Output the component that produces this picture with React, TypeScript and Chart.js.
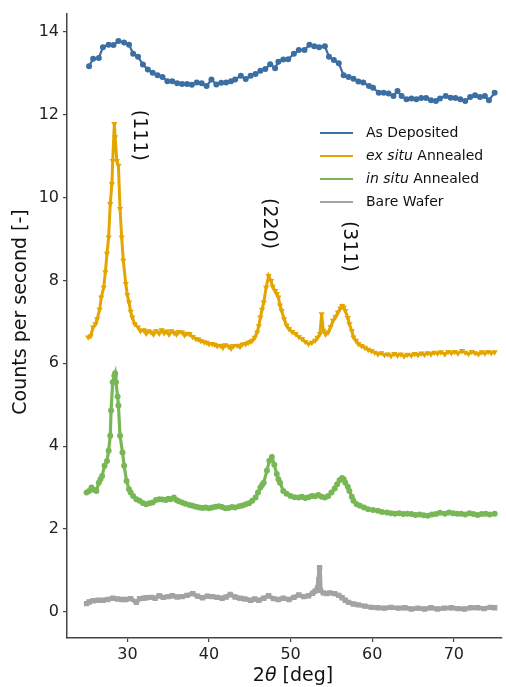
import React, { useEffect, useRef } from "react";
import { Chart, registerables } from "chart.js";

Chart.register(...registerables);

// ---- Data ----
const asDepX = [25.3,25.8,26.5,27.0,27.7,28.3,28.9,29.6,30.2,30.7,31.3,31.9,32.5,33.1,33.7,34.3,34.9,35.5,36.1,36.7,37.3,37.9,38.5,39.1,39.7,40.3,40.9,41.5,42.1,42.7,43.2,43.9,44.5,45.1,45.7,46.3,46.9,47.5,48.1,48.5,49.1,49.7,50.4,51.0,51.7,52.3,52.9,53.5,54.2,54.7,55.3,55.9,56.5,57.1,57.7,58.3,58.9,59.6,60.1,60.8,61.4,62.0,62.6,63.1,63.6,64.2,64.8,65.4,66.0,66.6,67.2,67.8,68.3,69.0,69.6,70.2,70.8,71.4,72.0,72.6,73.2,73.8,74.3,75.0];
const asDepY = [13.17,13.35,13.37,13.63,13.69,13.68,13.78,13.74,13.69,13.47,13.40,13.21,13.09,13.01,12.95,12.91,12.81,12.81,12.76,12.74,12.74,12.72,12.78,12.76,12.69,12.85,12.73,12.77,12.78,12.81,12.85,12.94,12.86,12.94,12.98,13.06,13.10,13.22,13.12,13.28,13.33,13.34,13.47,13.56,13.56,13.69,13.65,13.63,13.65,13.40,13.32,13.24,12.95,12.91,12.87,12.80,12.78,12.69,12.65,12.53,12.53,12.51,12.45,12.57,12.45,12.37,12.39,12.37,12.40,12.40,12.35,12.33,12.39,12.45,12.41,12.40,12.37,12.33,12.43,12.47,12.43,12.45,12.35,12.53];

const exSituX = [25.2,25.5,25.8,26.1,26.3,26.6,26.8,27.1,27.3,27.5,27.7,27.9,28.1,28.2,28.4,28.5,28.7,28.9,29.1,29.3,29.5,29.8,30.0,30.2,30.4,30.6,30.9,31.3,31.6,32.0,32.3,32.6,32.9,33.2,33.5,33.9,34.2,34.5,34.8,35.1,35.4,35.7,36.0,36.3,36.7,37.0,37.3,37.6,38.0,38.4,38.7,39.0,39.4,39.7,40.0,40.4,40.7,41.0,41.4,41.7,42.0,42.4,42.7,43.0,43.5,43.8,44.1,44.5,44.8,45.1,45.3,45.6,45.9,46.1,46.3,46.5,46.7,47.0,47.3,47.6,47.8,48.1,48.3,48.5,48.7,48.9,49.2,49.5,49.8,50.2,50.6,51.0,51.4,51.8,52.2,52.6,53.0,53.3,53.6,53.8,54.0,54.3,54.6,54.9,55.2,55.5,55.8,56.1,56.3,56.5,56.7,57.0,57.2,57.5,57.7,58.0,58.3,58.7,59.1,59.5,59.9,60.3,60.7,61.1,61.5,61.9,62.3,62.7,63.1,63.5,63.9,64.3,64.8,65.2,65.6,66.0,66.4,66.8,67.2,67.6,68.0,68.4,68.9,69.3,69.7,70.1,70.5,71.0,71.4,71.8,72.2,72.6,73.0,73.4,73.8,74.2,74.6,75.0];
const exSituY = [6.63,6.66,6.87,6.95,7.07,7.30,7.59,7.83,8.20,8.65,9.04,9.85,10.33,10.89,11.78,11.46,10.89,10.77,9.73,9.04,8.48,7.92,7.65,7.47,7.25,7.11,6.95,6.87,6.78,6.80,6.72,6.78,6.75,6.70,6.78,6.72,6.80,6.73,6.77,6.70,6.78,6.74,6.70,6.76,6.75,6.68,6.72,6.71,6.64,6.59,6.58,6.54,6.51,6.50,6.47,6.47,6.45,6.42,6.43,6.38,6.44,6.41,6.36,6.42,6.43,6.40,6.46,6.47,6.50,6.52,6.55,6.62,6.75,6.90,7.11,7.30,7.47,7.83,8.11,7.99,7.85,7.75,7.68,7.59,7.40,7.27,7.07,6.92,6.83,6.76,6.71,6.64,6.59,6.52,6.47,6.50,6.55,6.62,6.71,7.19,6.79,6.70,6.75,6.88,7.03,7.12,7.23,7.33,7.39,7.35,7.27,7.10,6.95,6.78,6.63,6.55,6.47,6.42,6.38,6.33,6.30,6.26,6.22,6.25,6.20,6.22,6.18,6.23,6.19,6.22,6.17,6.21,6.19,6.23,6.20,6.24,6.21,6.25,6.22,6.26,6.24,6.27,6.22,6.28,6.25,6.28,6.24,6.30,6.26,6.23,6.28,6.25,6.22,6.27,6.24,6.28,6.25,6.27];

const inSituX = [25.0,25.3,25.6,25.9,26.2,26.5,26.7,26.9,27.2,27.5,27.7,27.9,28.0,28.2,28.4,28.5,28.6,28.8,28.9,29.1,29.4,29.6,29.9,30.2,30.4,30.7,31.1,31.5,31.9,32.3,32.7,33.1,33.5,33.9,34.3,34.7,35.0,35.3,35.7,36.0,36.3,36.7,37.1,37.6,38.0,38.4,38.8,39.2,39.6,40.0,40.4,40.8,41.2,41.6,42.0,42.4,42.8,43.2,43.7,44.1,44.5,44.9,45.3,45.7,46.0,46.3,46.5,46.7,47.1,47.4,47.7,48.0,48.3,48.5,48.7,49.1,49.5,50.0,50.5,51.0,51.4,51.8,52.2,52.6,53.0,53.4,53.8,54.2,54.6,55.0,55.4,55.7,56.0,56.3,56.5,56.7,57.0,57.2,57.5,57.7,58.1,58.5,59.0,59.5,60.1,60.7,61.2,61.8,62.3,62.8,63.3,63.8,64.3,64.8,65.3,65.8,66.3,66.8,67.3,67.8,68.3,68.9,69.4,69.9,70.4,70.9,71.4,71.9,72.4,72.9,73.4,73.9,74.4,75.0];
const inSituY = [2.88,2.92,3.00,2.95,2.92,3.12,3.20,3.28,3.53,3.64,3.89,4.25,4.86,5.54,5.70,5.76,5.54,5.20,4.98,4.25,3.85,3.53,3.16,2.96,2.88,2.80,2.72,2.68,2.63,2.60,2.62,2.64,2.70,2.72,2.71,2.70,2.73,2.72,2.76,2.70,2.67,2.64,2.61,2.58,2.56,2.54,2.52,2.51,2.52,2.50,2.52,2.54,2.55,2.53,2.50,2.51,2.53,2.52,2.55,2.57,2.60,2.62,2.68,2.76,2.88,3.00,3.06,3.12,3.41,3.65,3.74,3.55,3.33,3.20,3.12,2.92,2.85,2.80,2.77,2.76,2.78,2.75,2.77,2.80,2.79,2.82,2.78,2.76,2.80,2.88,2.98,3.08,3.18,3.23,3.20,3.12,3.02,2.92,2.78,2.68,2.60,2.56,2.52,2.48,2.46,2.44,2.41,2.40,2.38,2.37,2.38,2.36,2.37,2.36,2.34,2.35,2.33,2.32,2.35,2.36,2.39,2.37,2.40,2.38,2.37,2.37,2.35,2.38,2.36,2.34,2.36,2.37,2.35,2.37];

const bareX = [25.0,25.3,25.8,26.4,27.0,27.6,28.2,28.8,29.4,29.8,30.4,31.1,31.5,32.0,32.3,32.9,33.4,33.9,34.4,35.0,35.5,36.1,36.7,37.3,38.0,38.6,39.2,39.8,40.4,41.0,41.6,42.1,42.6,43.2,43.8,44.4,45.1,45.6,46.1,46.7,47.3,47.9,48.5,49.1,49.8,50.4,51.0,51.6,52.2,52.7,53.0,53.3,53.45,53.55,53.65,54.0,54.4,54.8,55.4,55.9,56.3,56.7,57.1,57.7,58.3,59.1,59.9,60.7,61.5,62.3,63.2,64.0,64.8,65.6,66.4,67.2,68.0,68.8,69.7,70.5,71.3,72.1,72.9,73.7,74.5,75.0];
const bareY = [0.20,0.24,0.27,0.28,0.28,0.30,0.33,0.31,0.30,0.30,0.32,0.23,0.32,0.33,0.34,0.35,0.33,0.39,0.35,0.37,0.39,0.36,0.37,0.40,0.44,0.38,0.34,0.38,0.37,0.35,0.33,0.36,0.42,0.36,0.33,0.31,0.28,0.31,0.28,0.33,0.39,0.32,0.30,0.33,0.30,0.35,0.41,0.37,0.39,0.45,0.50,0.58,0.78,1.07,0.52,0.46,0.44,0.46,0.44,0.40,0.34,0.28,0.23,0.19,0.17,0.14,0.11,0.10,0.09,0.11,0.09,0.10,0.07,0.09,0.07,0.10,0.07,0.09,0.10,0.08,0.07,0.10,0.10,0.08,0.11,0.10];

const xTicks = [30, 40, 50, 60, 70];
const yTicks = [0, 2, 4, 6, 8, 10, 12, 14];

const peakLabels = ["(111)", "(220)", "(311)"];
const peakLabelX = [31.45, 47.39, 57.18];
const peakLabelY = [11.5, 9.37, 8.82];

const COLORS = {
  blue: "#3b6ea3",
  orange: "#e3a600",
  green: "#78b755",
  gray: "#a3a3a3",
};

const FONT = "'DejaVu Sans', sans-serif";

const legendItems = [
  { color: COLORS.blue, italic: "", rest: "As Deposited" },
  { color: COLORS.orange, italic: "ex situ", rest: " Annealed" },
  { color: COLORS.green, italic: "in situ", rest: " Annealed" },
  { color: COLORS.gray, italic: "", rest: "Bare Wafer" },
];

function pts(xs: number[], ys: number[]) {
  return xs.map((x, i) => ({ x, y: ys[i] }));
}

const customPlugin = {
  id: "customDraw",
  afterDraw(chart: any) {
    const ctx = chart.ctx;
    const xs = chart.scales.x;
    const ys = chart.scales.y;
    ctx.save();
    ctx.fillStyle = "#111";
    // peak labels
    ctx.font = `19px ${FONT}`;
    ctx.textAlign = "center";
    ctx.textBaseline = "middle";
    peakLabels.forEach((t, i) => {
      const px = xs.getPixelForValue(peakLabelX[i]);
      const py = ys.getPixelForValue(peakLabelY[i]);
      ctx.save();
      ctx.translate(px, py);
      ctx.rotate(Math.PI / 2);
      ctx.fillText(t, 0, 0);
      ctx.restore();
    });
    // legend
    const lx0 = 320, lx1 = 353, tx = 366;
    const rowY = [133, 156, 179, 202];
    legendItems.forEach((it, i) => {
      const y = rowY[i];
      ctx.strokeStyle = it.color;
      ctx.lineWidth = 2;
      ctx.beginPath();
      ctx.moveTo(lx0, y);
      ctx.lineTo(lx1, y);
      ctx.stroke();
      ctx.textAlign = "left";
      ctx.textBaseline = "middle";
      ctx.fillStyle = "#111";
      let x = tx;
      if (it.italic) {
        ctx.font = `italic 14px ${FONT}`;
        ctx.fillText(it.italic, x, y);
        x += ctx.measureText(it.italic).width;
      }
      ctx.font = `14px ${FONT}`;
      ctx.fillText(it.rest, x, y);
    });
    // y title
    ctx.save();
    ctx.font = `19px ${FONT}`;
    ctx.textAlign = "center";
    ctx.textBaseline = "middle";
    ctx.translate(21, 312);
    ctx.rotate(-Math.PI / 2);
    ctx.fillText("Counts per second [-]", 0, 0);
    ctx.restore();
    // x title: 2θ [deg]
    ctx.textBaseline = "middle";
    ctx.textAlign = "left";
    const parts = [
      { t: "2", f: `19px ${FONT}` },
      { t: "θ", f: `italic 19px ${FONT}` },
      { t: " [deg]", f: `19px ${FONT}` },
    ];
    let total = 0;
    parts.forEach((p) => {
      ctx.font = p.f;
      total += ctx.measureText(p.t).width;
    });
    let cx = 293 - total / 2;
    parts.forEach((p) => {
      ctx.font = p.f;
      ctx.fillText(p.t, cx, 676);
      cx += ctx.measureText(p.t).width;
    });
    ctx.restore();
  },
};

export default function App() {
  const ref = useRef<HTMLCanvasElement | null>(null);
  useEffect(() => {
    if (!ref.current) return;
    const chart = new Chart(ref.current, {
      type: "scatter",
      data: {
        datasets: [
          {
            label: "As Deposited",
            data: pts(asDepX, asDepY),
            showLine: true,
            borderColor: COLORS.blue,
            backgroundColor: COLORS.blue,
            borderWidth: 2.2,
            pointRadius: 3,
            pointStyle: "circle",
            pointBorderWidth: 0,
          },
          {
            label: "ex situ Annealed",
            data: pts(exSituX, exSituY),
            showLine: true,
            borderColor: COLORS.orange,
            backgroundColor: COLORS.orange,
            borderWidth: 3,
            pointRadius: 3.6,
            pointStyle: "triangle",
            pointRotation: 180,
            pointBorderWidth: 0,
          },
          {
            label: "in situ Annealed",
            data: pts(inSituX, inSituY),
            showLine: true,
            borderColor: COLORS.green,
            backgroundColor: COLORS.green,
            borderWidth: 3.2,
            pointRadius: 3,
            pointStyle: "circle",
            pointBorderWidth: 0,
          },
          {
            label: "Bare Wafer",
            data: pts(bareX, bareY),
            showLine: true,
            borderColor: COLORS.gray,
            backgroundColor: COLORS.gray,
            borderWidth: 4.5,
            pointRadius: 3.8,
            pointStyle: "rect",
            pointBorderWidth: 0,
          },
        ],
      },
      options: {
        animation: false,
        responsive: false,
        layout: { padding: { top: 12, right: 0, left: 0, bottom: 0 } },
        plugins: {
          legend: { display: false },
          tooltip: { enabled: false },
        },
        scales: {
          x: {
            type: "linear",
            min: 22.6,
            max: 75.9,
            afterBuildTicks: (s: any) => {
              s.ticks = xTicks.map((v) => ({ value: v }));
            },
            afterFit: (s: any) => {
              s.height = 49;
            },
            grid: {
              display: true,
              drawOnChartArea: false,
              drawTicks: true,
              tickLength: 4,
              color: "#444",
              lineWidth: 1.2,
            },
            border: { display: true, color: "#444", width: 1.5 },
            ticks: {
              font: { family: FONT, size: 16 },
              color: "#222",
              padding: 3,
              maxRotation: 0,
            },
          },
          y: {
            type: "linear",
            min: -0.63,
            max: 14.44,
            afterBuildTicks: (s: any) => {
              s.ticks = yTicks.map((v) => ({ value: v }));
            },
            afterFit: (s: any) => {
              s.width = 67;
            },
            grid: {
              display: true,
              drawOnChartArea: false,
              drawTicks: true,
              tickLength: 4,
              color: "#444",
              lineWidth: 1.2,
            },
            border: { display: true, color: "#444", width: 1.5 },
            ticks: {
              font: { family: FONT, size: 16 },
              color: "#222",
              padding: 4,
            },
          },
        },
      },
      plugins: [customPlugin],
    } as any);
    return () => chart.destroy();
  }, []);
  return (
    <div style={{ position: "fixed", left: 0, top: 0, width: 506, height: 687, background: "#fff" }}>
      <canvas ref={ref} width={506} height={687} />
    </div>
  );
}
